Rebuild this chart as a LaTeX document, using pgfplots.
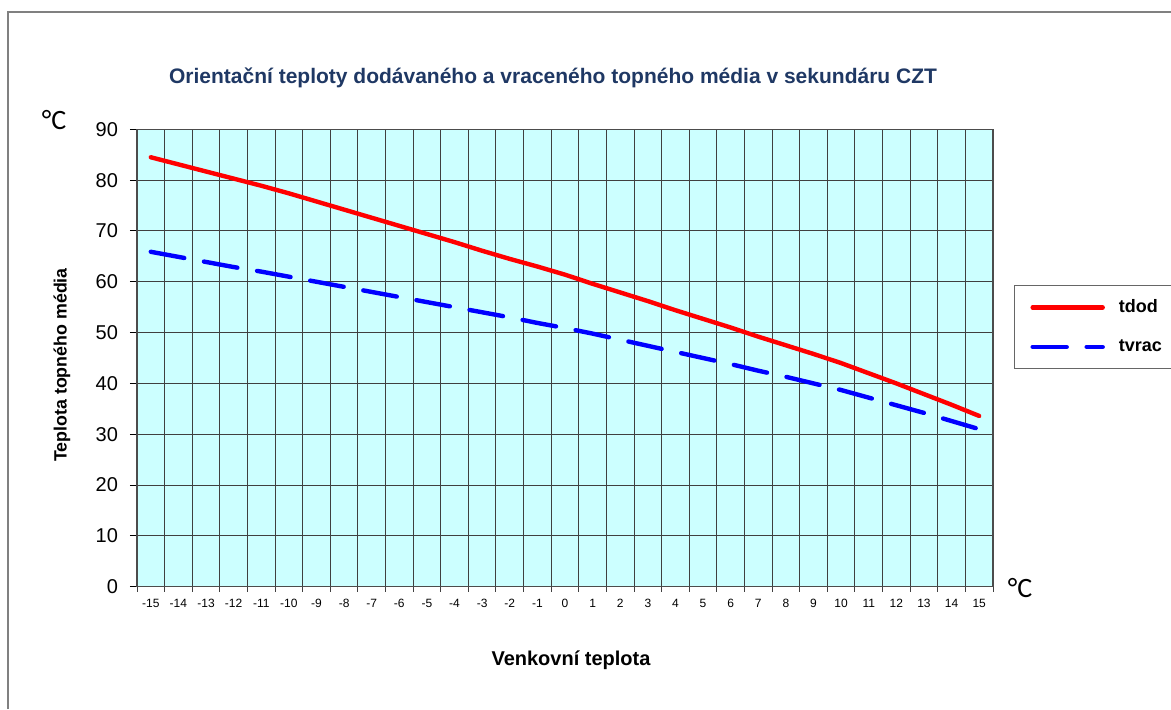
\documentclass[border=0pt]{standalone}
\usepackage{fontspec}
\setmainfont{Liberation Sans}
\newfontfamily\calib{Carlito}
\usepackage{pgfplots}
\pgfplotsset{compat=1.18}
\definecolor{bg}{RGB}{204,255,255}
\definecolor{titleblue}{RGB}{31,56,100}
\definecolor{gridc}{RGB}{64,64,64}
\begin{document}
\begin{tikzpicture}
\useasboundingbox (0,0) rectangle (585.5pt,354.5pt);
\draw[black!50, line width=0.6pt] (4pt,0pt) -- (4pt,348.5pt) -- (585.5pt,348.5pt);
\begin{axis}[
  at={(68.5pt,61.15pt)}, anchor=south west,
  width=428pt, height=228.7pt, scale only axis,
  xmin=-15.5, xmax=15.5, ymin=0, ymax=90,
  xtick={-15,...,15},
  minor xtick={-15.5,-14.5,...,15.5},
  ytick={0,10,...,90},
  axis background/.style={fill=bg},
  xminorgrids=true, ymajorgrids=true, xmajorgrids=false,
  grid style={gridc, line width=0.5pt},
  minor grid style={gridc, line width=0.5pt},
  tick align=outside, tick pos=left,
  major tick length=3.5pt,
  xtick style={draw=none},
  ytick style={black, line width=0.5pt},
  axis line style={black!70, line width=0.6pt},
  /pgf/number format/assume math mode=true,
  yticklabel style={font=\fontsize{10}{11}\selectfont, xshift=-2.5pt},
  xticklabel style={font=\fontsize{6}{7}\selectfont, anchor=center, yshift=-5pt},
  legend style={at={(1.0245,0.6596)}, anchor=north west, draw=black!60, line width=0.5pt,
    fill=white, font=\bfseries\fontsize{9}{10}\selectfont,
    inner xsep=8pt, inner ysep=5pt, row sep=8pt,
    /tikz/every odd column/.append style={column sep=5pt}},
  legend cell align=left,
  legend image code/.code={\draw[#1] (0pt,0pt) -- (35pt,0pt);},
  clip=false,
]
\addplot[red, line width=2.2pt, line cap=round, line join=round] coordinates {
(-15,84.5) (-14,83.1) (-13,81.7) (-12,80.3) (-11,78.9) (-10,77.4) (-9,75.8) (-8,74.2)
(-7,72.6) (-6,71.0) (-5,69.4) (-4,67.8) (-3,66.1) (-2,64.5) (-1,63.0) (0,61.4)
(1,59.6) (2,57.9) (3,56.2) (4,54.4) (5,52.7) (6,51.0) (7,49.2) (8,47.5)
(9,45.8) (10,44.0) (11,42.0) (12,40.0) (13,37.9) (14,35.8) (15,33.6)};
\addlegendentry{tdod}
\addplot[blue, line width=2.2pt, line cap=round, line join=round, dash pattern=on 17pt off 10pt] coordinates {
(-15,65.9) (-14,64.9) (-13,63.9) (-12,62.9) (-11,62.0) (-10,61.0) (-9,60.0) (-8,59.0)
(-7,58.0) (-6,57.0) (-5,56.0) (-4,55.0) (-3,54.0) (-2,53.0) (-1,51.9) (0,50.9)
(1,49.8) (2,48.6) (3,47.4) (4,46.2) (5,45.0) (6,43.8) (7,42.5) (8,41.3)
(9,40.0) (10,38.7) (11,37.2) (12,35.7) (13,34.2) (14,32.6) (15,31.0)};
\addlegendentry{tvrac}
\pgfplotsinvokeforeach{-15.5,-14.5,...,15.5}{
  \draw[gridc, line width=0.5pt] (axis cs:#1,0) -- ++(0pt,-2.5pt);
}
\end{axis}
\node[font=\bfseries\fontsize{10.5}{12}\selectfont, text=titleblue] at (276.5pt,315.5pt) {Orientační teploty dodávaného a vraceného topného média v sekundáru CZT};
\node[font=\bfseries\fontsize{8.9}{10}\selectfont, rotate=90] at (31pt,172pt) {Teplota topného média};
\node[font=\bfseries\fontsize{10}{12}\selectfont] at (285.5pt,24.5pt) {Venkovní teplota};
\node[font=\calib\fontsize{14}{16}\selectfont] at (27pt,294.5pt) {°C};
\node[font=\calib\fontsize{14}{16}\selectfont] at (510pt,60.5pt) {°C};
\end{tikzpicture}
\end{document}
